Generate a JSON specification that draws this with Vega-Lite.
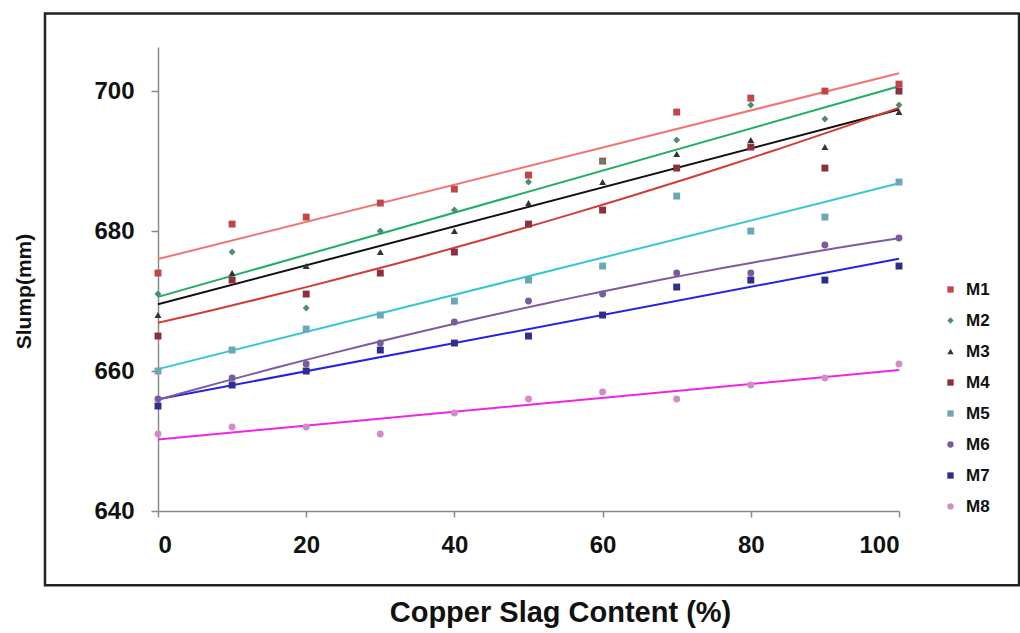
{
  "$schema": "https://vega.github.io/schema/vega-lite/v6.json",
  "width": 741,
  "height": 464,
  "autosize": {"type": "none"},
  "padding": {"left": 158, "top": 47, "right": 121, "bottom": 122},
  "background": "white",
  "config": {
    "view": {"stroke": null},
    "axis": {
      "grid": false,
      "domainColor": "#8a8a8a",
      "domainWidth": 1.5,
      "tickColor": "#8a8a8a",
      "tickWidth": 1.5,
      "labelFont": "Liberation Sans",
      "labelFontWeight": "bold",
      "labelFontSize": 24,
      "labelColor": "#111111",
      "titleFont": "Liberation Sans",
      "titleFontWeight": "bold",
      "titleColor": "#111111"
    },
    "legend": {
      "labelFont": "Liberation Sans",
      "labelFontWeight": "bold",
      "labelFontSize": 17,
      "labelColor": "#111111"
    }
  },
  "data": {
    "values": [
      {"mix": "M1", "content": 0, "slump": 674}, {"mix": "M1", "content": 10, "slump": 681}, {"mix": "M1", "content": 20, "slump": 682}, {"mix": "M1", "content": 30, "slump": 684}, {"mix": "M1", "content": 40, "slump": 686}, {"mix": "M1", "content": 50, "slump": 688}, {"mix": "M1", "content": 60, "slump": 690}, {"mix": "M1", "content": 70, "slump": 697}, {"mix": "M1", "content": 80, "slump": 699}, {"mix": "M1", "content": 90, "slump": 700}, {"mix": "M1", "content": 100, "slump": 701},
      {"mix": "M2", "content": 0, "slump": 671}, {"mix": "M2", "content": 10, "slump": 677}, {"mix": "M2", "content": 20, "slump": 669}, {"mix": "M2", "content": 30, "slump": 680}, {"mix": "M2", "content": 40, "slump": 683}, {"mix": "M2", "content": 50, "slump": 687}, {"mix": "M2", "content": 60, "slump": 690}, {"mix": "M2", "content": 70, "slump": 693}, {"mix": "M2", "content": 80, "slump": 698}, {"mix": "M2", "content": 90, "slump": 696}, {"mix": "M2", "content": 100, "slump": 698},
      {"mix": "M3", "content": 0, "slump": 668}, {"mix": "M3", "content": 10, "slump": 674}, {"mix": "M3", "content": 20, "slump": 675}, {"mix": "M3", "content": 30, "slump": 677}, {"mix": "M3", "content": 40, "slump": 680}, {"mix": "M3", "content": 50, "slump": 684}, {"mix": "M3", "content": 60, "slump": 687}, {"mix": "M3", "content": 70, "slump": 691}, {"mix": "M3", "content": 80, "slump": 693}, {"mix": "M3", "content": 90, "slump": 692}, {"mix": "M3", "content": 100, "slump": 697},
      {"mix": "M4", "content": 0, "slump": 665}, {"mix": "M4", "content": 10, "slump": 673}, {"mix": "M4", "content": 20, "slump": 671}, {"mix": "M4", "content": 30, "slump": 674}, {"mix": "M4", "content": 40, "slump": 677}, {"mix": "M4", "content": 50, "slump": 681}, {"mix": "M4", "content": 60, "slump": 683}, {"mix": "M4", "content": 70, "slump": 689}, {"mix": "M4", "content": 80, "slump": 692}, {"mix": "M4", "content": 90, "slump": 689}, {"mix": "M4", "content": 100, "slump": 700},
      {"mix": "M5", "content": 0, "slump": 660}, {"mix": "M5", "content": 10, "slump": 663}, {"mix": "M5", "content": 20, "slump": 666}, {"mix": "M5", "content": 30, "slump": 668}, {"mix": "M5", "content": 40, "slump": 670}, {"mix": "M5", "content": 50, "slump": 673}, {"mix": "M5", "content": 60, "slump": 675}, {"mix": "M5", "content": 70, "slump": 685}, {"mix": "M5", "content": 80, "slump": 680}, {"mix": "M5", "content": 90, "slump": 682}, {"mix": "M5", "content": 100, "slump": 687},
      {"mix": "M6", "content": 0, "slump": 656}, {"mix": "M6", "content": 10, "slump": 659}, {"mix": "M6", "content": 20, "slump": 661}, {"mix": "M6", "content": 30, "slump": 664}, {"mix": "M6", "content": 40, "slump": 667}, {"mix": "M6", "content": 50, "slump": 670}, {"mix": "M6", "content": 60, "slump": 671}, {"mix": "M6", "content": 70, "slump": 674}, {"mix": "M6", "content": 80, "slump": 674}, {"mix": "M6", "content": 90, "slump": 678}, {"mix": "M6", "content": 100, "slump": 679},
      {"mix": "M7", "content": 0, "slump": 655}, {"mix": "M7", "content": 10, "slump": 658}, {"mix": "M7", "content": 20, "slump": 660}, {"mix": "M7", "content": 30, "slump": 663}, {"mix": "M7", "content": 40, "slump": 664}, {"mix": "M7", "content": 50, "slump": 665}, {"mix": "M7", "content": 60, "slump": 668}, {"mix": "M7", "content": 70, "slump": 672}, {"mix": "M7", "content": 80, "slump": 673}, {"mix": "M7", "content": 90, "slump": 673}, {"mix": "M7", "content": 100, "slump": 675},
      {"mix": "M8", "content": 0, "slump": 651}, {"mix": "M8", "content": 10, "slump": 652}, {"mix": "M8", "content": 20, "slump": 652}, {"mix": "M8", "content": 30, "slump": 651}, {"mix": "M8", "content": 40, "slump": 654}, {"mix": "M8", "content": 50, "slump": 656}, {"mix": "M8", "content": 60, "slump": 657}, {"mix": "M8", "content": 70, "slump": 656}, {"mix": "M8", "content": 80, "slump": 658}, {"mix": "M8", "content": 90, "slump": 659}, {"mix": "M8", "content": 100, "slump": 661}
    ]
  },
  "layer": [
    {
      "data": {"values": [{"x0": -15.25, "x1": 116.2, "y0": 711.1, "y1": 629.4}]},
      "mark": {"type": "rect", "fill": null, "stroke": "#222222", "strokeWidth": 2.5, "clip": false},
      "encoding": {
        "x": {"field": "x0", "type": "quantitative", "scale": {"domain": [0, 100], "nice": false, "zero": false}},
        "x2": {"field": "x1"},
        "y": {"field": "y0", "type": "quantitative", "scale": {"domain": [640, 706.3], "nice": false, "zero": false}},
        "y2": {"field": "y1"}
      }
    },
    {
      "transform": [
        {"filter": {"not": {"field": "mix", "oneOf": ["M4", "M6"]}}},
        {"regression": "slump", "on": "content", "groupby": ["mix"], "method": "linear"}
      ],
      "mark": {"type": "line", "strokeWidth": 2},
      "encoding": {
        "x": {"field": "content", "type": "quantitative"},
        "y": {"field": "slump", "type": "quantitative"},
        "stroke": {
          "field": "mix", "type": "nominal", "legend": null,
          "scale": {"range": ["#F27474", "#1FAE62", "#111111", "#D43A3A", "#38C6D6", "#7E5AA0", "#2323E6", "#F024E6"]}
        }
      }
    },
    {
      "transform": [
        {"filter": {"field": "mix", "oneOf": ["M4", "M6"]}},
        {"regression": "slump", "on": "content", "groupby": ["mix"], "method": "poly", "order": 2}
      ],
      "mark": {"type": "line", "strokeWidth": 2},
      "encoding": {
        "x": {"field": "content", "type": "quantitative"},
        "y": {"field": "slump", "type": "quantitative"},
        "stroke": {"field": "mix", "type": "nominal", "legend": null}
      }
    },
    {
      "mark": {"type": "point", "filled": true, "opacity": 1, "size": 48},
      "encoding": {
        "x": {
          "field": "content", "type": "quantitative",
          "axis": {"values": [0, 20, 40, 60, 80, 100], "tickSize": 6, "labelPadding": 16,
                   "title": "Copper Slag Content (%)", "titleFontSize": 29,
                   "titleX": 402, "titleY": 101, "titleBaseline": "middle", "titleAlign": "center"}
        },
        "y": {
          "field": "slump", "type": "quantitative",
          "axis": {"values": [640, 660, 680, 700], "tickSize": 7, "labelPadding": 17,
                   "title": "Slump(mm)", "titleFontSize": 21,
                   "titleX": -134, "titleY": 244, "titleBaseline": "middle", "titleAlign": "center", "titleAngle": -90}
        },
        "fill": {
          "field": "mix", "type": "nominal",
          "scale": {"domain": ["M1", "M2", "M3", "M4", "M5", "M6", "M7", "M8"],
                    "range": ["#C0464A", "#4E8C6E", "#333333", "#8E2F3E", "#6BA7B5", "#7A5C9E", "#2E2E8C", "#D48BC8"]},
          "legend": {"title": null, "orient": "none", "legendX": 784, "legendY": 234, "symbolSize": 40, "rowPadding": 13, "labelOffset": 7}
        },
        "shape": {
          "field": "mix", "type": "nominal",
          "scale": {"domain": ["M1", "M2", "M3", "M4", "M5", "M6", "M7", "M8"],
                    "range": ["square", "diamond", "triangle-up", "square", "square", "circle", "square", "circle"]},
          "legend": {"title": null, "orient": "none", "legendX": 784, "legendY": 234, "symbolSize": 40, "rowPadding": 13, "labelOffset": 7}
        }
      }
    }
  ]
}
